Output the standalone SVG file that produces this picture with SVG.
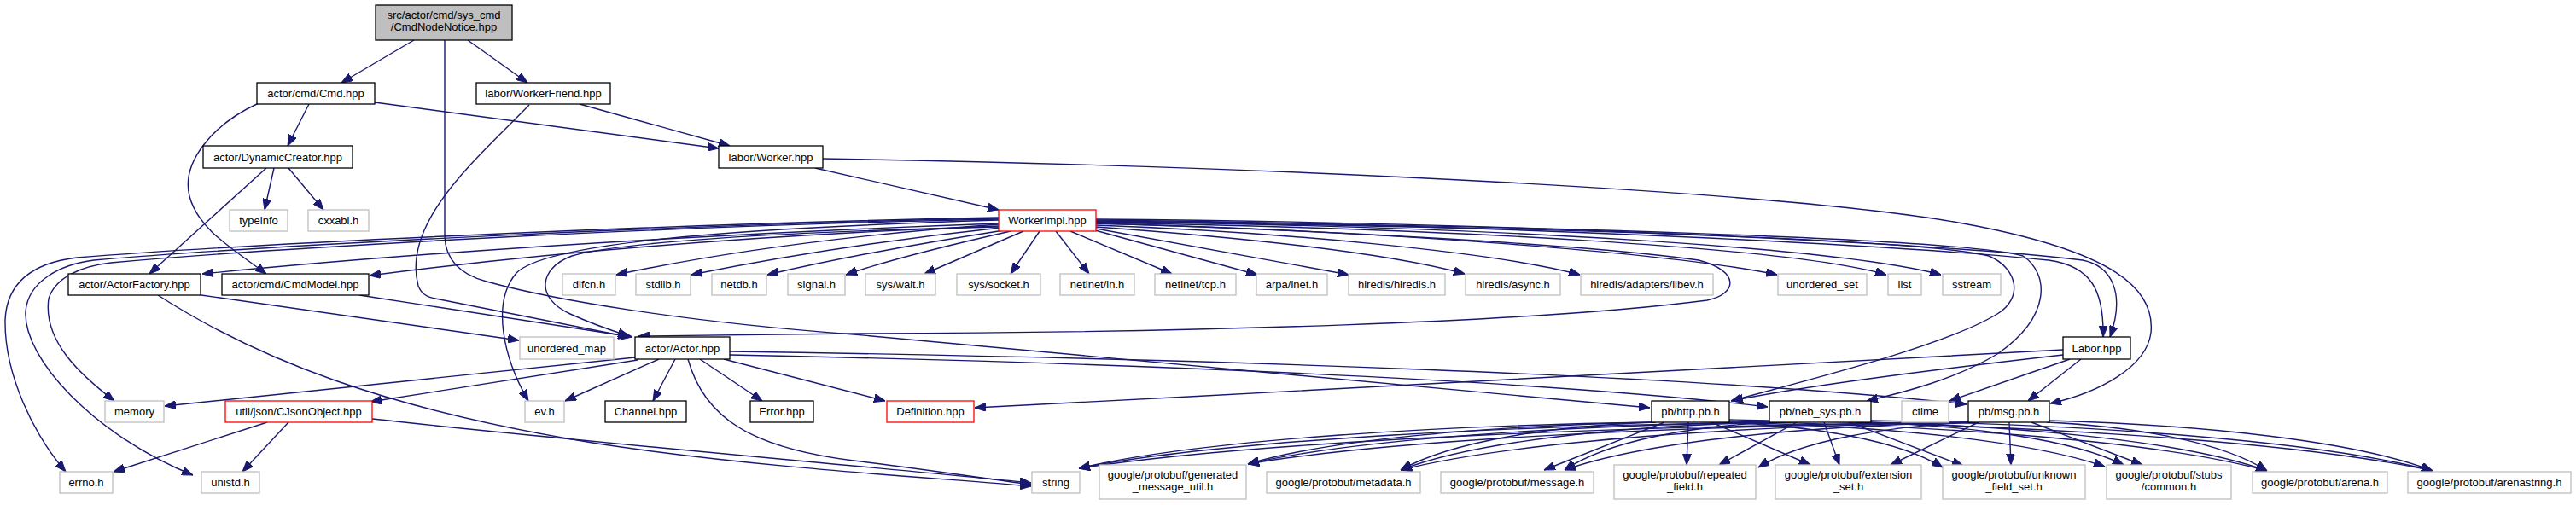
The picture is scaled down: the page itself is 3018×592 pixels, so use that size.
<svg xmlns="http://www.w3.org/2000/svg" width="3018" height="592" viewBox="0 0 3018 592">
<defs>
<style>
.n rect{fill:#fff;stroke-width:1.3}
.k rect{stroke:#000}
.g rect{stroke:#bfbfbf}
.r rect{stroke:#ff0000}
text{font-family:"Liberation Sans",Arial,Helvetica,sans-serif;font-size:13px;fill:#000;text-anchor:middle}
#edges path{fill:none;stroke:#191970;stroke-width:1.4;marker-end:url(#a)}
</style>
<marker id="a" markerUnits="userSpaceOnUse" viewBox="0 0 13 10" refX="13" refY="5" markerWidth="13" markerHeight="10" orient="auto"><path d="M0,0L13,5L0,10z" fill="#191970" stroke="#191970" stroke-width="1"/></marker>
</defs>
<rect width="3018" height="592" fill="#fff"/>
<g id="edges">
<path d="M485,47 L400,97"/>
<path d="M548,47 L618,97"/>
<path d="M521,47 L521,277 C522,305 540,322 570,330 C650,352 800,377 1000,392 L1933,478"/>
<path d="M362,122 L337,171"/>
<path d="M439,120 L842,174"/>
<path d="M303,121 C250,145 212,190 222,230 C232,268 270,290 312,321"/>
<path d="M679,122 L855,171"/>
<path d="M620,123 C560,185 470,260 490,335 C494,345 500,348 510,350 L737,395"/>
<path d="M321,197 L310,246"/>
<path d="M338,197 L379,246"/>
<path d="M312,197 L175,321"/>
<path d="M955,197 L1170,246"/>
<path d="M964,186 C1500,195 2100,225 2300,262 C2480,295 2525,340 2520,390 C2515,430 2460,460 2402,473"/>
<path d="M1170,262 C1000,268 600,285 237,321"/>
<path d="M1170,265 C900,275 650,295 433,323"/>
<path d="M1170,255 C800,262 300,285 90,302 C40,308 8,330 6,375 C5,440 40,510 77,553"/>
<path d="M1170,256 C800,263 320,287 110,305 C70,310 33,330 30,365 C27,420 110,510 226,557"/>
<path d="M1170,257 C800,264 340,289 130,308 C95,312 65,325 57,350 C50,400 95,440 134,470"/>
<path d="M1170,258 C850,268 640,285 605,320 C575,355 590,420 619,470"/>
<path d="M1170,266 C900,272 720,285 670,300 C630,315 628,350 668,368 C690,378 715,387 737,394"/>
<path d="M1170,263 C1000,275 850,295 722,322"/>
<path d="M1172,267 C1050,280 920,300 810,322"/>
<path d="M1176,270 C1080,285 980,303 899,322"/>
<path d="M1184,271 C1100,290 1040,305 991,322"/>
<path d="M1199,271 L1083,321"/>
<path d="M1218,271 L1184,321"/>
<path d="M1237,271 L1276,321"/>
<path d="M1254,271 L1373,321"/>
<path d="M1283,270 L1473,322"/>
<path d="M1284,268 L1580,322"/>
<path d="M1284,266 C1450,278 1620,295 1716,321"/>
<path d="M1284,264 C1500,272 1750,295 1851,322"/>
<path d="M1284,262 C1600,270 1950,295 2082,322"/>
<path d="M1284,261 C1700,268 2100,290 2210,322"/>
<path d="M1284,260 C1750,265 2150,290 2274,322"/>
<path d="M1284,258 C1700,262 2200,285 2400,305 C2450,312 2465,340 2464,395"/>
<path d="M1284,257 C1700,260 2250,282 2440,305 C2475,312 2490,345 2472,395"/>
<path d="M1284,260 C1800,266 2250,280 2330,300 C2365,315 2370,350 2340,368 C2280,405 2120,445 2028,470"/>
<path d="M1284,259 C1800,264 2300,280 2370,300 C2400,320 2405,370 2340,415 C2290,445 2230,460 2187,470"/>
<path d="M1284,262 C1500,268 1850,285 1990,305 C2040,318 2035,345 2000,352 C1800,378 1400,390 1000,391 L748,394"/>
<path d="M236,346 L608,399"/>
<path d="M185,346 C300,420 450,480 700,520 C900,550 1100,560 1208,570"/>
<path d="M421,346 L741,395"/>
<path d="M744,419 L193,476"/>
<path d="M747,422 L434,471"/>
<path d="M772,421 L662,470"/>
<path d="M791,421 L765,470"/>
<path d="M820,421 L893,470"/>
<path d="M806,421 C825,490 880,525 1000,540 C1100,552 1160,562 1208,568"/>
<path d="M848,421 L1037,470"/>
<path d="M855,416 C1300,425 1800,445 2071,477"/>
<path d="M855,412 C1400,420 2000,440 2304,474"/>
<path d="M313,495 L133,553"/>
<path d="M338,495 L284,553"/>
<path d="M436,491 C700,520 1000,545 1208,566"/>
<path d="M2417,410 C2100,425 1600,455 1142,478"/>
<path d="M2417,416 C2250,435 2100,455 2029,470"/>
<path d="M2425,421 L2284,470"/>
<path d="M2438,421 L2376,470"/>
<path d="M1937,495 C1668,499 1399,517 1264,549"/>
<path d="M1937,495 C1747,499 1557,515 1462,544"/>
<path d="M1940,495 C1820,499 1701,517 1641,551"/>
<path d="M1950,495 L1809,551"/>
<path d="M1978,495 L1976,545"/>
<path d="M2005,495 L2121,545"/>
<path d="M2020,495 C2122,499 2225,516 2276,548"/>
<path d="M2023,495 C2200,499 2377,516 2466,547"/>
<path d="M2026,494 C2278,499 2530,517 2656,552"/>
<path d="M2026,492 C2356,497 2685,516 2850,552"/>
<path d="M2075,495 C1751,499 1426,517 1264,549"/>
<path d="M2075,495 C1830,499 1585,515 1462,544"/>
<path d="M2078,495 C1903,499 1728,517 1641,551"/>
<path d="M2082,495 C1982,499 1883,517 1833,551"/>
<path d="M2105,495 L2014,545"/>
<path d="M2137,495 L2155,545"/>
<path d="M2166,495 L2300,546"/>
<path d="M2186,495 C2307,499 2428,515 2488,545"/>
<path d="M2190,495 C2376,500 2563,518 2656,552"/>
<path d="M2192,493 C2455,498 2718,517 2850,552"/>
<path d="M2308,495 C1890,499 1473,517 1264,549"/>
<path d="M2308,495 C1970,499 1631,515 1462,544"/>
<path d="M2310,495 C2042,499 1775,517 1641,551"/>
<path d="M2312,495 C2120,499 1929,517 1833,551"/>
<path d="M2315,495 C2213,499 2111,516 2060,548"/>
<path d="M2318,495 L2215,545"/>
<path d="M2354,495 L2356,545"/>
<path d="M2380,495 L2510,545"/>
<path d="M2398,495 C2501,500 2604,518 2656,552"/>
<path d="M2401,493 C2581,498 2760,517 2850,552"/>
</g>
<g id="root" class="n k"><rect x="440" y="6" width="160" height="41" style="fill:#bfbfbf"/><text x="520" y="22">src/actor/cmd/sys_cmd</text><text x="520" y="36">/CmdNodeNotice.hpp</text></g>
<g id="cmd" class="n k"><rect x="301" y="97" width="138" height="25"/><text x="370" y="114">actor/cmd/Cmd.hpp</text></g>
<g id="workerfriend" class="n k"><rect x="558" y="97" width="157" height="25"/><text x="636.5" y="114">labor/WorkerFriend.hpp</text></g>
<g id="dynamiccreator" class="n k"><rect x="238" y="171" width="175" height="26"/><text x="325.5" y="188.5">actor/DynamicCreator.hpp</text></g>
<g id="worker" class="n k"><rect x="842" y="171" width="122" height="26"/><text x="903" y="188.5">labor/Worker.hpp</text></g>
<g id="typeinfo" class="n g"><rect x="269" y="246" width="68" height="25"/><text x="303" y="263">typeinfo</text></g>
<g id="cxxabi" class="n g"><rect x="361" y="246" width="71" height="25"/><text x="396.5" y="263">cxxabi.h</text></g>
<g id="workerimpl" class="n r"><rect x="1170" y="246" width="114" height="25"/><text x="1227" y="263">WorkerImpl.hpp</text></g>
<g id="actorfactory" class="n k"><rect x="80" y="321" width="155" height="25"/><text x="157.5" y="338">actor/ActorFactory.hpp</text></g>
<g id="cmdmodel" class="n k"><rect x="260" y="321" width="172" height="25"/><text x="346" y="338">actor/cmd/CmdModel.hpp</text></g>
<g id="dlfcn" class="n g"><rect x="659" y="321" width="62" height="25"/><text x="690" y="338">dlfcn.h</text></g>
<g id="stdlib" class="n g"><rect x="745" y="321" width="64" height="25"/><text x="777" y="338">stdlib.h</text></g>
<g id="netdb" class="n g"><rect x="834" y="321" width="64" height="25"/><text x="866" y="338">netdb.h</text></g>
<g id="signal" class="n g"><rect x="923" y="321" width="67" height="25"/><text x="956.5" y="338">signal.h</text></g>
<g id="syswait" class="n g"><rect x="1014" y="321" width="82" height="25"/><text x="1055" y="338">sys/wait.h</text></g>
<g id="syssocket" class="n g"><rect x="1121" y="321" width="98" height="25"/><text x="1170" y="338">sys/socket.h</text></g>
<g id="netinetin" class="n g"><rect x="1242" y="321" width="87" height="25"/><text x="1285.5" y="338">netinet/in.h</text></g>
<g id="netinettcp" class="n g"><rect x="1353" y="321" width="95" height="25"/><text x="1400.5" y="338">netinet/tcp.h</text></g>
<g id="arpainet" class="n g"><rect x="1472" y="321" width="83" height="25"/><text x="1513.5" y="338">arpa/inet.h</text></g>
<g id="hiredis" class="n g"><rect x="1580" y="321" width="113" height="25"/><text x="1636.5" y="338">hiredis/hiredis.h</text></g>
<g id="async" class="n g"><rect x="1717" y="321" width="111" height="25"/><text x="1772.5" y="338">hiredis/async.h</text></g>
<g id="libev" class="n g"><rect x="1852" y="321" width="155" height="25"/><text x="1929.5" y="338">hiredis/adapters/libev.h</text></g>
<g id="unordered_set" class="n g"><rect x="2083" y="321" width="104" height="25"/><text x="2135" y="338">unordered_set</text></g>
<g id="list" class="n g"><rect x="2212" y="321" width="39" height="25"/><text x="2231.5" y="338">list</text></g>
<g id="sstream" class="n g"><rect x="2276" y="321" width="68" height="25"/><text x="2310" y="338">sstream</text></g>
<g id="unordered_map" class="n g"><rect x="609" y="395" width="110" height="26"/><text x="664" y="412.5">unordered_map</text></g>
<g id="actor" class="n k"><rect x="744" y="395" width="111" height="26"/><text x="799.5" y="412.5">actor/Actor.hpp</text></g>
<g id="labor" class="n k"><rect x="2417" y="395" width="79" height="26"/><text x="2456.5" y="412.5">Labor.hpp</text></g>
<g id="memory" class="n g"><rect x="123" y="470" width="69" height="25"/><text x="157.5" y="487">memory</text></g>
<g id="cjsonobject" class="n r"><rect x="264" y="470" width="172" height="25"/><text x="350" y="487">util/json/CJsonObject.hpp</text></g>
<g id="evh" class="n g"><rect x="615" y="470" width="46" height="25"/><text x="638" y="487">ev.h</text></g>
<g id="channel" class="n k"><rect x="709" y="470" width="95" height="25"/><text x="756.5" y="487">Channel.hpp</text></g>
<g id="error" class="n k"><rect x="879" y="470" width="74" height="25"/><text x="916" y="487">Error.hpp</text></g>
<g id="definition" class="n r"><rect x="1039" y="470" width="102" height="25"/><text x="1090" y="487">Definition.hpp</text></g>
<g id="http" class="n k"><rect x="1935" y="470" width="91" height="25"/><text x="1980.5" y="487">pb/http.pb.h</text></g>
<g id="neb_sys" class="n k"><rect x="2073" y="470" width="119" height="25"/><text x="2132.5" y="487">pb/neb_sys.pb.h</text></g>
<g id="ctime" class="n g"><rect x="2228" y="470" width="55" height="25"/><text x="2255.5" y="487">ctime</text></g>
<g id="msg" class="n k"><rect x="2306" y="470" width="95" height="25"/><text x="2353.5" y="487">pb/msg.pb.h</text></g>
<g id="errno" class="n g"><rect x="70" y="553" width="62" height="25"/><text x="101" y="570">errno.h</text></g>
<g id="unistd" class="n g"><rect x="236" y="553" width="68" height="25"/><text x="270" y="570">unistd.h</text></g>
<g id="string" class="n g"><rect x="1209" y="553" width="56" height="25"/><text x="1237" y="570">string</text></g>
<g id="generated_message_util" class="n g"><rect x="1288" y="545" width="172" height="40"/><text x="1374" y="561">google/protobuf/generated</text><text x="1374" y="575">_message_util.h</text></g>
<g id="metadata" class="n g"><rect x="1484" y="553" width="180" height="25"/><text x="1574" y="570">google/protobuf/metadata.h</text></g>
<g id="message" class="n g"><rect x="1688" y="553" width="179" height="25"/><text x="1777.5" y="570">google/protobuf/message.h</text></g>
<g id="repeated_field" class="n g"><rect x="1891" y="545" width="166" height="40"/><text x="1974" y="561">google/protobuf/repeated</text><text x="1974" y="575">_field.h</text></g>
<g id="extension_set" class="n g"><rect x="2080" y="545" width="171" height="40"/><text x="2165.5" y="561">google/protobuf/extension</text><text x="2165.5" y="575">_set.h</text></g>
<g id="unknown_field_set" class="n g"><rect x="2276" y="545" width="167" height="40"/><text x="2359.5" y="561">google/protobuf/unknown</text><text x="2359.5" y="575">_field_set.h</text></g>
<g id="stubs_common" class="n g"><rect x="2468" y="545" width="146" height="40"/><text x="2541" y="561">google/protobuf/stubs</text><text x="2541" y="575">/common.h</text></g>
<g id="arena" class="n g"><rect x="2639" y="553" width="158" height="25"/><text x="2718" y="570">google/protobuf/arena.h</text></g>
<g id="arenastring" class="n g"><rect x="2821" y="553" width="191" height="25"/><text x="2916.5" y="570">google/protobuf/arenastring.h</text></g>
</svg>
